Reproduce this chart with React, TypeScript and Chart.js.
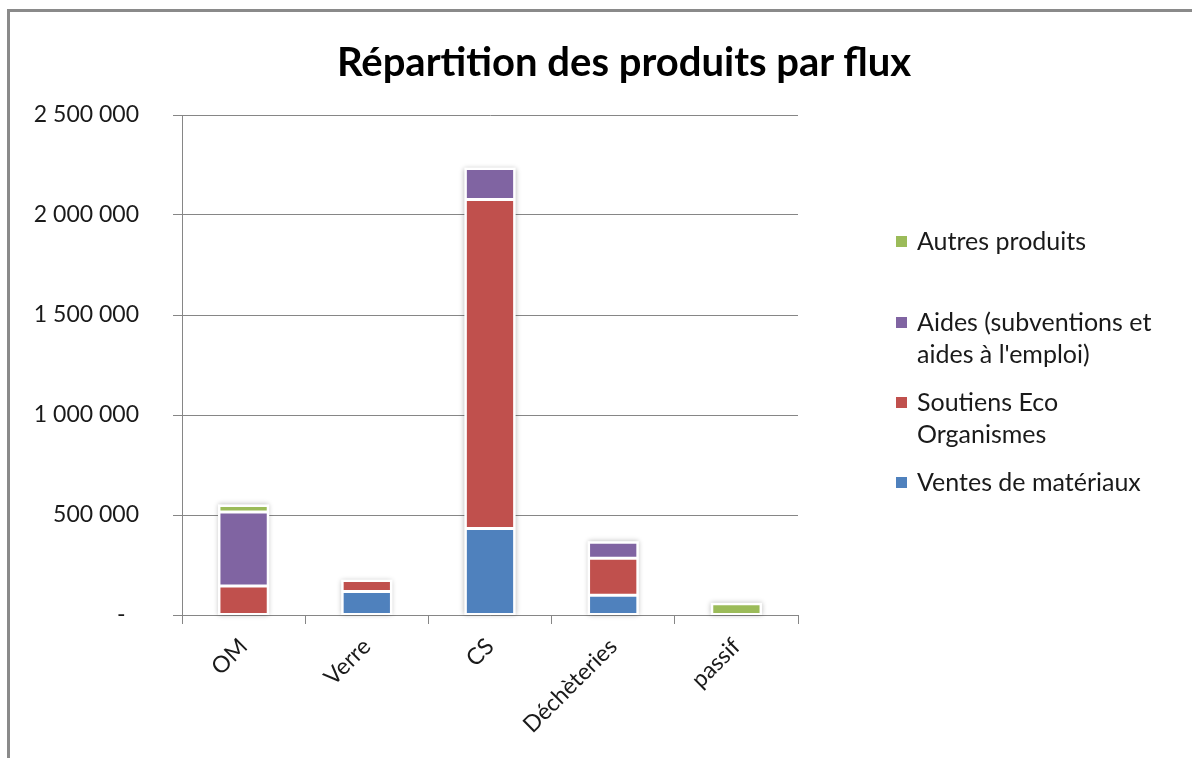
import React, { useEffect, useRef } from "react";
import { Chart, registerables } from "chart.js";

Chart.register(...registerables);

const categories = ["OM", "Verre", "CS", "Déchèteries", "passif"];
const seriesNames = ["Ventes de matériaux", "Soutiens Eco Organismes", "Aides (subventions et aides à l'emploi)", "Autres produits"];
const ventes = [null, 117000, 432000, 99000, null];
const soutiens = [145000, 55000, 1645000, 185000, null];
const aides = [370000, null, 155000, 80000, null];
const autres = [33000, null, null, null, 56000];
const colors = ["#4F81BD", "#C0504D", "#8064A2", "#9BBB59"];
const yMax = 2500000;
const yStep = 500000;

const legendItems = [
  { color: colors[3], lines: ["Autres produits"], top: 224 },
  { color: colors[2], lines: ["Aides (subventions et", "aides à l'emploi)"], top: 305 },
  { color: colors[1], lines: ["Soutiens Eco", "Organismes"], top: 385 },
  { color: colors[0], lines: ["Ventes de matériaux"], top: 465 },
];

const FONT = "Lato, 'Noto Sans', sans-serif";

function fmt(v: number): string {
  if (v === 0) return "-\u2007";
  return String(v).replace(/\B(?=(\d{3})+(?!\d))/g, " ");
}

const shadowPlugin = {
  id: "barShadow",
  beforeDatasetsDraw(chart: any) {
    const ctx = chart.ctx;
    const x = chart.scales.x;
    const y = chart.scales.y;
    const all = [ventes, soutiens, aides, autres];
    const w = (chart.chartArea.right - chart.chartArea.left) / categories.length * 0.4;
    ctx.save();
    ctx.shadowColor = "rgba(0,0,0,0.28)";
    ctx.shadowBlur = 5;
    ctx.fillStyle = "#ffffff";
    categories.forEach((_, i) => {
      const sum = all.reduce((s, arr) => s + (arr[i] || 0), 0);
      if (!sum) return;
      const cx = x.getPixelForValue(i);
      const top = y.getPixelForValue(sum);
      const base = y.getPixelForValue(0);
      ctx.fillRect(cx - w / 2 - 1, top - 1, w + 2, base - top + 1);
    });
    ctx.restore();
  },
};

export default function App() {
  const ref = useRef<HTMLCanvasElement>(null);
  useEffect(() => {
    if (!ref.current) return;
    const mk = (label: string, data: any[], color: string) => ({
      label,
      data,
      backgroundColor: color,
      borderColor: "#ffffff",
      borderWidth: 1.5,
      borderSkipped: false,
      categoryPercentage: 1,
      barPercentage: 0.4,
    });
    const chart = new Chart(ref.current, {
      type: "bar",
      data: {
        labels: categories,
        datasets: [
          mk(seriesNames[0], ventes, colors[0]),
          mk(seriesNames[1], soutiens, colors[1]),
          mk(seriesNames[2], aides, colors[2]),
          mk(seriesNames[3], autres, colors[3]),
        ],
      },
      plugins: [shadowPlugin],
      options: {
        animation: false,
        responsive: false,
        maintainAspectRatio: false,
        layout: { padding: { left: 0, top: 115, right: 394, bottom: 0 } },
        plugins: { legend: { display: false }, title: { display: false }, tooltip: { enabled: false } },
        scales: {
          x: {
            stacked: true,
            grid: { display: true, drawOnChartArea: false, drawTicks: true, tickLength: 9, color: "#868686" },
            border: { display: true, color: "#868686" },
            ticks: { minRotation: 45, maxRotation: 45, color: "#1a1a1a", padding: 9, font: { family: FONT, size: 23 } },
            afterFit(scale: any) { scale.height = 143; },
          },
          y: {
            stacked: true,
            min: 0,
            max: yMax,
            grid: { color: "#868686", tickLength: 9, drawTicks: true },
            border: { display: true, color: "#868686" },
            ticks: {
              stepSize: yStep,
              padding: 34,
              color: "#1a1a1a",
              font: { family: FONT, size: 23 },
              callback: (v: any) => fmt(Number(v)),
            },
            afterFit(scale: any) { scale.width = 182; },
          },
        },
      },
    });
    return () => chart.destroy();
  }, []);

  return (
    <div style={{ position: "fixed", left: 0, top: 0, width: 1192, height: 758, background: "#fff", overflow: "hidden" }}>
      <canvas ref={ref} width={1192} height={758} style={{ position: "absolute", left: 0, top: 0, width: 1192, height: 758 }} />
      <div style={{ position: "absolute", left: 7, top: 9, width: 1200, height: 760, borderTop: "3px solid #8a8a8a", borderLeft: "3px solid #8a8a8a", boxSizing: "border-box", pointerEvents: "none" }} />
      <div style={{ position: "absolute", left: 124, width: 1000, top: 35, textAlign: "center", fontFamily: FONT, fontWeight: 700, fontSize: 40, color: "#000", lineHeight: "52px", whiteSpace: "nowrap" }}>
        Répartition des produits par flux
      </div>
      {legendItems.map((it, k) => (
        <div key={k} style={{ position: "absolute", left: 896, top: it.top, fontFamily: FONT, fontSize: 25, color: "#1a1a1a", lineHeight: "32px" }}>
          <span style={{ position: "absolute", left: 0, top: 12, width: 11, height: 11, background: it.color }} />
          <div style={{ marginLeft: 21, whiteSpace: "nowrap" }}>
            {it.lines.map((l, j) => (<div key={j}>{l}</div>))}
          </div>
        </div>
      ))}
    </div>
  );
}
